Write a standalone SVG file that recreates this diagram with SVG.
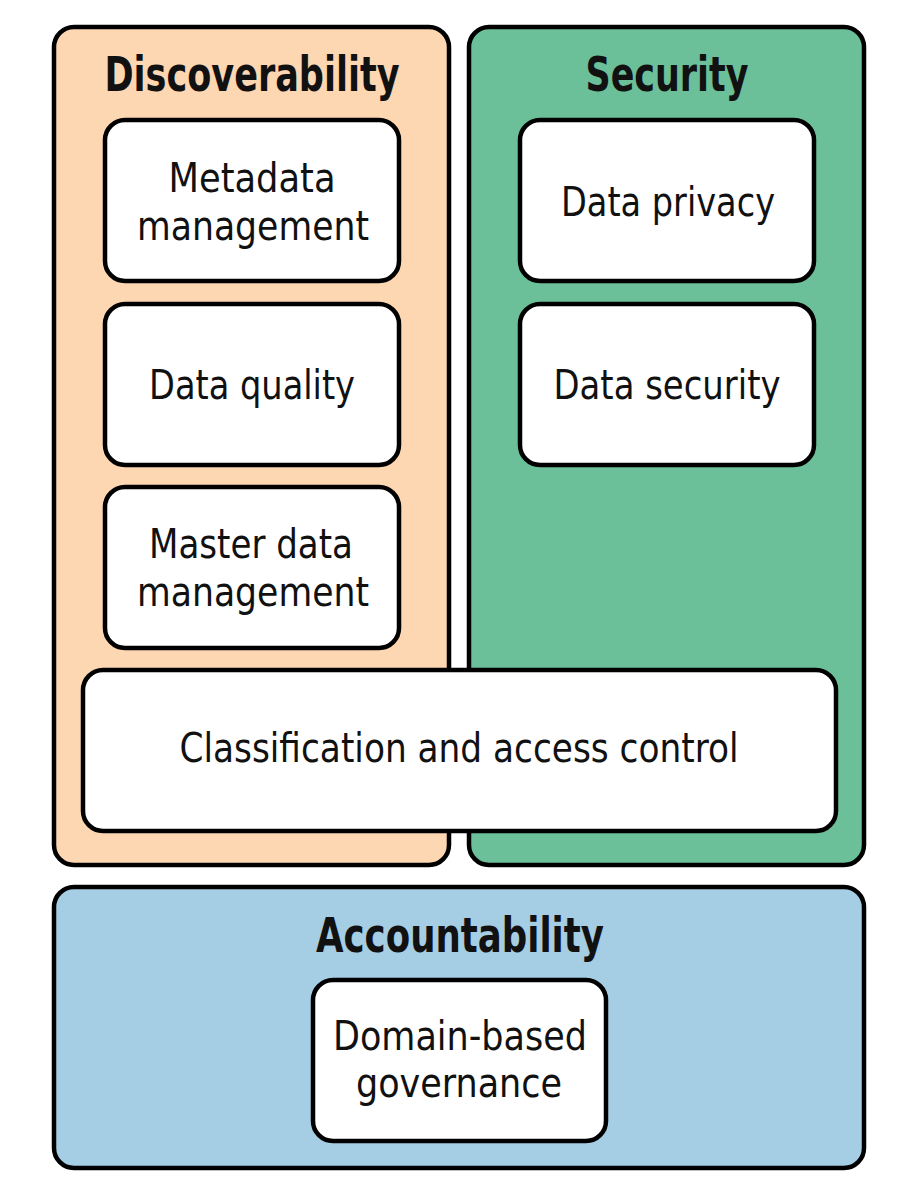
<svg xmlns="http://www.w3.org/2000/svg" width="906" height="1190" viewBox="0 0 906 1190">
<style>
.cont{stroke:#000;stroke-width:4.5}
.box{fill:#fff;stroke:#000;stroke-width:4.5}
.t{font-family:"DejaVu Sans Condensed","DejaVu Sans",sans-serif;font-size:41px;fill:#111;text-anchor:middle}
.h{font-family:"DejaVu Sans Condensed","DejaVu Sans",sans-serif;font-size:48px;font-weight:bold;fill:#111;text-anchor:middle}
</style>
<rect width="906" height="1190" fill="#fff"/>
<g id="discoverability">
<rect class="cont" x="54" y="27" width="395" height="838" rx="20" fill="#FDD6B2"/>
<text class="h" x="252" y="91" textLength="295" lengthAdjust="spacingAndGlyphs">Discoverability</text>
</g>
<g id="security">
<rect class="cont" x="469" y="27" width="395" height="838" rx="20" fill="#6BBF99"/>
<text class="h" x="667" y="91" textLength="163" lengthAdjust="spacingAndGlyphs">Security</text>
</g>
<g id="accountability">
<rect class="cont" x="54" y="887" width="810" height="281" rx="20" fill="#A5CDE4"/>
<text class="h" x="460" y="952" textLength="288" lengthAdjust="spacingAndGlyphs">Accountability</text>
</g>
<g id="metadata">
<rect class="box" x="105" y="120" width="294" height="161" rx="20"/>
<text class="t" x="252" y="192" textLength="167" lengthAdjust="spacingAndGlyphs">Metadata</text>
<text class="t" x="253" y="240" textLength="232" lengthAdjust="spacingAndGlyphs">management</text>
</g>
<g id="quality">
<rect class="box" x="105" y="304" width="294" height="161" rx="20"/>
<text class="t" x="252" y="399" textLength="206" lengthAdjust="spacingAndGlyphs">Data quality</text>
</g>
<g id="master">
<rect class="box" x="105" y="487" width="294" height="161" rx="20"/>
<text class="t" x="251" y="558" textLength="204" lengthAdjust="spacingAndGlyphs">Master data</text>
<text class="t" x="253" y="606" textLength="232" lengthAdjust="spacingAndGlyphs">management</text>
</g>
<g id="privacy">
<rect class="box" x="520" y="120" width="294" height="161" rx="20"/>
<text class="t" x="668" y="216" textLength="214" lengthAdjust="spacingAndGlyphs">Data privacy</text>
</g>
<g id="datasecurity">
<rect class="box" x="520" y="304" width="294" height="161" rx="20"/>
<text class="t" x="667" y="399" textLength="227" lengthAdjust="spacingAndGlyphs">Data security</text>
</g>
<g id="classification">
<rect class="box" x="83" y="670" width="753" height="161" rx="20"/>
<text class="t" x="459" y="762" textLength="559" lengthAdjust="spacingAndGlyphs">Classification and access control</text>
</g>
<g id="domain">
<rect class="box" x="313" y="980" width="293" height="161" rx="20"/>
<text class="t" x="460" y="1050" textLength="254" lengthAdjust="spacingAndGlyphs">Domain-based</text>
<text class="t" x="459" y="1097" textLength="206" lengthAdjust="spacingAndGlyphs">governance</text>
</g>
<g id="connectors"></g>
</svg>
